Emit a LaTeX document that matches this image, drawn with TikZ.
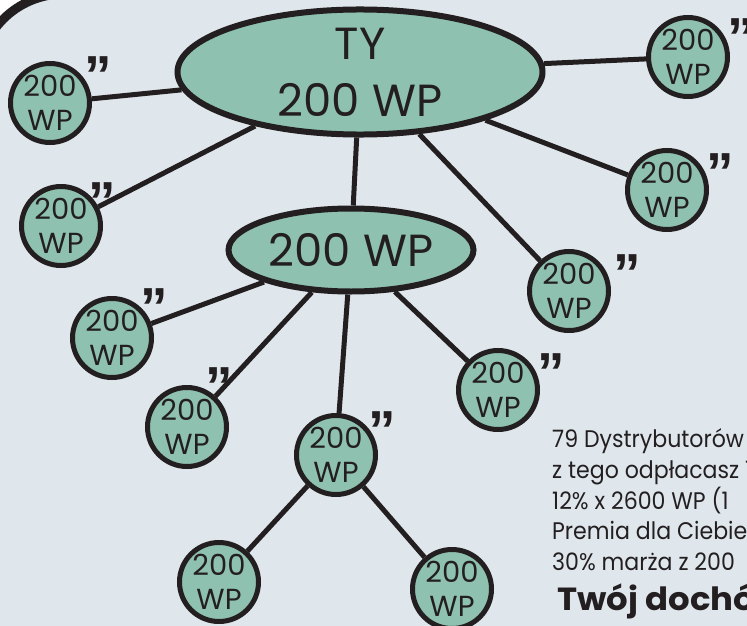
\documentclass[tikz,border=0pt]{standalone}
\usepackage{fontspec}
\setmainfont{Poppins}
\newfontfamily\narrowfont{Poppins}[FakeStretch=0.92]
\newfontfamily\widefont{Poppins}[FakeStretch=1.06]
\newfontfamily\dittofont{Liberation Sans}
\usetikzlibrary{shapes.geometric}
\definecolor{bgblue}{HTML}{DFE7ED}
\definecolor{sea}{HTML}{8FC1B0}
\definecolor{ink}{HTML}{231F20}
\begin{document}
\begin{tikzpicture}[x=1pt,y=-1pt,
    bubble/.style={circle,draw=ink,fill=sea,line width=5pt,minimum size=79pt,
      inner sep=0pt,align=center,text=ink,font=\fontsize{29}{34}\selectfont},
    blob/.style={ellipse,draw=ink,fill=sea,line width=6pt,inner sep=0pt,
      align=center,text=ink,font=\fontsize{45}{57}\selectfont},
    ditto/.style={anchor=base,inner sep=0pt,text=ink,font=\dittofont\bfseries\fontsize{55}{55}\selectfont},
    link/.style={draw=ink,line width=5pt}]
    \useasboundingbox (0,0) rectangle (747,626);
    \clip (0,0) rectangle (747,626);

    % Frame
    \fill[white] (0,0) rectangle (747,626);
    \draw[draw=ink,fill=bgblue,line width=9pt,rounded corners=86pt] (-22,-6) rectangle (1000,900);

    % The two ellipses
    \node[blob,minimum width=365pt,minimum height=124pt] (TY) at (360,72) {TY\\200 WP};
    \node[blob,minimum width=245pt,minimum height=83pt]  (WP) at (351,250) {200 WP};

    % Circles round TY
    \node[bubble] (P1) at (50,103)  {200\\WP};
    \node[bubble] (P2) at (61,226)  {200\\WP};
    \node[bubble] (P3) at (688,57)  {200\\WP};
    \node[bubble] (P4) at (667,190) {200\\WP};
    \node[bubble] (P5) at (569,291) {200\\WP};

    % Circles round the second ellipse
    \node[bubble] (S1) at (112,338) {200\\WP};
    \node[bubble] (S2) at (187,427) {200\\WP};
    \node[bubble] (S3) at (336,455) {200\\WP};
    \node[bubble] (S4) at (498,390) {200\\WP};

    % Bottom row
    \node[bubble] (B1) at (219,582) {200\\WP};
    \node[bubble] (B2) at (452,589) {200\\WP};

    % Ditto marks
    \node[ditto] (d1) at (98,95)   {”};
    \node[ditto] (d2) at (102,220) {”};
    \node[ditto] (d3) at (741,57)  {”};
    \node[ditto] (d4) at (720,191) {”};
    \node[ditto] (d5) at (627,292) {”};
    \node[ditto] (d6) at (154,326) {”};
    \node[ditto] (d7) at (551,391) {”};
    \node[ditto] (d8) at (219,405) {”};
    \node[ditto] (d9) at (382,449) {”};

    % Edges from TY
    \draw[link] (TY) -- (P1);
    \draw[link] (TY) -- (P2);
    \draw[link] (TY) -- (P3);
    \draw[link] (TY) -- (P4);
    \draw[link] (TY) -- (P5);
    \draw[link] (TY) -- (WP);

    % Edges from the second ellipse
    \draw[link] (WP) -- (S1);
    \draw[link] (WP) -- (S2);
    \draw[link] (WP) -- (S3);
    \draw[link] (WP) -- (S4);

    % Edges to the bottom row
    \draw[link] (S3) -- (B1);
    \draw[link] (S3) -- (B2);

    % Text on the right
    \node[anchor=north west,inner sep=0pt,align=left,text=ink,
      font=\narrowfont\fontsize{24}{30.7}\selectfont] (info) at (552,425)
      {79 Dystrybutorów (\\z tego odpłacasz 1\\12\% x 2600 WP (1\\Premia dla Ciebie\\30\% marża z 200};
    \node[anchor=base west,inner sep=0pt,text=ink,
      font=\widefont\bfseries\fontsize{32}{36}\selectfont] (total) at (557,610) {Twój dochó};
\end{tikzpicture}
\end{document}
